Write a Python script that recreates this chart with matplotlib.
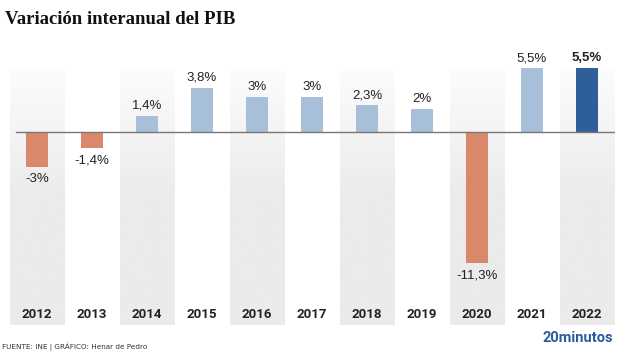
import numpy as np
import matplotlib.pyplot as plt
from matplotlib.colors import LinearSegmentedColormap

years = ["2012", "2013", "2014", "2015", "2016", "2017", "2018", "2019", "2020", "2021", "2022"]
values = [-3.0, -1.4, 1.4, 3.8, 3.0, 3.0, 2.3, 2.0, -11.3, 5.5, 5.5]
labels = ["-3%", "-1,4%", "1,4%", "3,8%", "3%", "3%", "2,3%", "2%", "-11,3%", "5,5%", "5,5%"]

W, H = 640, 360
fig = plt.figure(figsize=(6.4, 3.6), dpi=100)
# axes in pixel terms: x 9.5..614.5, y 60..325 (from top)
ax = fig.add_axes([9.5 / W, 1 - 325 / H, 605 / W, 265 / H])
ymin, ymax = -16.6, 6.2
ax.set_xlim(-0.5, len(years) - 0.5)
ax.set_ylim(ymin, ymax)
ax.axis("off")

# background stripes, fading out toward the top
stripe_top = 5.3
t = np.linspace(0, 1, 256).reshape(-1, 1)
grad = np.clip((t - 0.5) / 0.5, 0, 1) * 0.85
cmap = LinearSegmentedColormap.from_list("fade", ["#ebebeb", "#ffffff"])
for i in range(0, len(years), 2):
    ax.imshow(grad, cmap=cmap, aspect="auto", origin="lower", interpolation="bilinear",
              extent=(i - 0.5, i + 0.5, ymin, stripe_top), zorder=0, vmin=0, vmax=1)

colors = []
for i, v in enumerate(values):
    if i == len(values) - 1:
        colors.append("#2f5f9b")
    elif v < 0:
        colors.append("#d9886c")
    else:
        colors.append("#a8bfda")

x = np.arange(len(years))
ax.bar(x, values, width=0.4, color=colors, zorder=2)
ax.plot([-0.38, len(years) - 0.5], [0, 0], color="#777777", lw=1.0, zorder=3)

for i, (v, lab) in enumerate(zip(values, labels)):
    weight = "bold" if i == len(values) - 1 else "normal"
    if v >= 0:
        ax.text(i, v + 0.35, lab, ha="center", va="bottom", fontsize=9.5,
                color="#222222", fontweight=weight, family="Liberation Sans", zorder=4)
    else:
        ax.text(i, v - 0.5, lab, ha="center", va="top", fontsize=9.5,
                color="#222222", fontweight=weight, family="Liberation Sans", zorder=4)
    ax.text(i, -15.7, years[i], ha="center", va="center", fontsize=9.5,
            color="#222222", fontweight="bold", family="Roboto", zorder=4)

fig.text(5 / W, 1 - 19 / H, "Variación interanual del PIB", fontsize=13.5,
         fontweight="bold", family="Liberation Serif", color="#111111",
         ha="left", va="center")
fig.text(2 / W, 1 - 347 / H, "FUENTE: INE | GRÁFICO: Henar de Pedro", fontsize=5.2,
         color="#333333", family="Liberation Sans Narrow", ha="left", va="center")
fig.text(613 / W, 1 - 338 / H, "20minutos", fontsize=10.5, fontweight="bold",
         color="#2a5b9c", family="Roboto", ha="right", va="center")

fig.savefig("out.png", dpi=100)
